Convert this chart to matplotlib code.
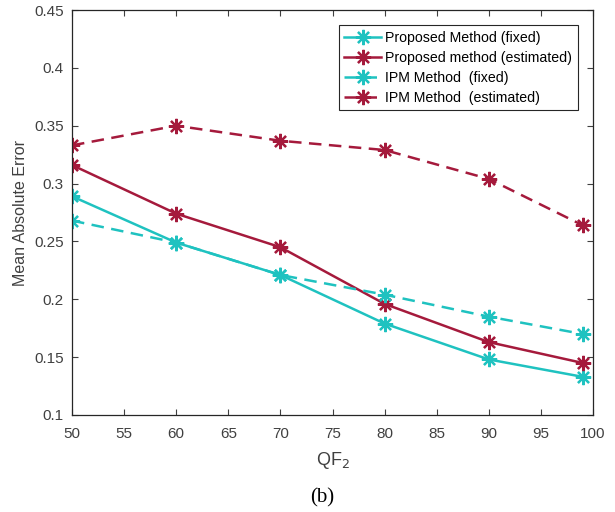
import matplotlib
matplotlib.use('Agg')
import matplotlib.pyplot as plt
import numpy as np

plt.rcParams['font.family'] = ['Liberation Sans', 'DejaVu Sans']

qf2 = [50, 60, 70, 80, 90, 99]
proposed_fixed = [0.289, 0.249, 0.221, 0.179, 0.148, 0.133]
proposed_est = [0.316, 0.274, 0.245, 0.196, 0.163, 0.145]
ipm_fixed = [0.268, 0.249, 0.221, 0.204, 0.185, 0.170]
ipm_est = [0.333, 0.350, 0.337, 0.329, 0.304, 0.264]

cyan = '#1fc2c0'
red = '#a51a3c'
axis_col = '#404040'

# matlab style asterisk marker (plus + cross)
star = (8, 2, 0)

fig = plt.figure(figsize=(6.15, 5.12), dpi=100)
ax = fig.add_axes([72/615, 1 - 415/512, 521/615, 405/512])

style = dict(marker=star, ms=11, mew=1.6, lw=1.8)
ax.plot(qf2, proposed_fixed, '-', color=cyan, label='Proposed Method (fixed)', **style)
ax.plot(qf2, proposed_est, '-', color=red, label='Proposed method (estimated)', **style)
ax.plot(qf2, ipm_fixed, '--', color=cyan, dashes=(5, 3),
        label='IPM Method  (fixed)', **style)
ax.plot(qf2, ipm_est, '--', color=red, dashes=(5, 3),
        label='IPM Method  (estimated)', **style)

ax.set_xlim(50, 100)
ax.set_ylim(0.1, 0.45)
ax.set_xticks(np.arange(50, 101, 5))
ax.set_yticks(np.arange(0.1, 0.451, 0.05))
ax.set_yticklabels(['0.1', '0.15', '0.2', '0.25', '0.3', '0.35', '0.4', '0.45'])
ax.tick_params(direction='in', top=True, right=True, labelsize=11,
               colors=axis_col, length=4, width=0.8)
ax.tick_params(axis='x', pad=9)
ax.tick_params(axis='y', pad=6)
for s in ax.spines.values():
    s.set_color('#262626')
    s.set_linewidth(0.9)

ax.set_xlabel('QF$_2$', fontsize=13, color=axis_col, labelpad=6)
ax.set_ylabel('Mean Absolute Error', fontsize=11.5, color=axis_col, labelpad=4)

leg = ax.legend(loc='upper right', bbox_to_anchor=(0.971, 0.963), borderaxespad=0,
                fontsize=10.2, frameon=True, fancybox=False, handlelength=2.6,
                borderpad=0.4, labelspacing=0.42, handletextpad=0.3)
leg.get_frame().set_edgecolor('#262626')
leg.get_frame().set_linewidth(0.8)
leg.get_frame().set_alpha(1)

fig.text(322/615, 1 - 498/512, '(b)', ha='center', va='center', fontsize=15,
         family=['Liberation Serif', 'DejaVu Serif'])

fig.savefig('out.png', dpi=100)
